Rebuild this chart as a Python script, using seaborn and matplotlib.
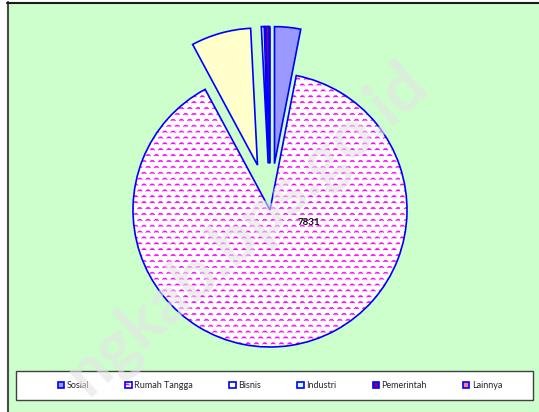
import warnings
import matplotlib
matplotlib.use("Agg")
import matplotlib.pyplot as plt
import matplotlib.hatch as mhatch
import matplotlib.colors as mcolors
from matplotlib.path import Path
from matplotlib.patches import Rectangle
from matplotlib.lines import Line2D
import seaborn as sns

warnings.filterwarnings("ignore")

categories = ["Sosial", "Rumah Tangga", "Bisnis", "Industri", "Pemerintah", "Lainnya"]
values = [270, 7831, 620, 30, 40, 0]
colors = ["#9999FF", "#FFFFFF", "#FFFFCC", "#CCFFFF", "#800080", "#FF8080"]
explode = [0.34, 0, 0.34, 0.34, 0.34, 0.34]
watermark = "ngkab.bps.go.id"


# excel-like "wave" fill, registered as hatch char '~'
class WaveHatch(mhatch.HatchPatternBase):
    def __init__(self, hatch, density):
        self.rows = 17 if "~" in hatch else 0
        self.bumps = 12
        self.num_vertices = self.rows * self.bumps * 4

    def set_vertices_and_codes(self, vertices, codes):
        w = 1.0 / self.bumps
        k = 0
        for r in range(self.rows):
            y0 = (r + 0.5) / self.rows
            shift = 0.5 * w * (r % 2)
            for b in range(self.bumps):
                x0 = b * w + shift
                vertices[k:k + 4] = [(x0, y0), (x0 + 0.15 * w, y0 + 0.013),
                                     (x0 + 0.4 * w, y0 + 0.013), (x0 + 0.55 * w, y0)]
                codes[k:k + 4] = [Path.MOVETO, Path.LINETO, Path.LINETO, Path.LINETO]
                k += 4


mhatch._hatch_types.append(WaveHatch)

sns.set_theme(style="white")
plt.rcParams["font.family"] = ["Lato", "DejaVu Sans"]
plt.rcParams["hatch.linewidth"] = 0.5

W, H = 539, 412
fig = plt.figure(figsize=(W / 100, H / 100), dpi=100)
fig.patch.set_facecolor("white")
fig.add_artist(Rectangle((8 / W, 0), 1, 1 - 3 / H, transform=fig.transFigure,
                         facecolor="#CCFFCC", edgecolor="none", zorder=-2))
fig.add_artist(Line2D([7.5 / W] * 2, [0, 1 - 2 / H], color="#4a4a4a", lw=1.5, zorder=-1))
fig.add_artist(Line2D([7 / W, 1], [1 - 2.5 / H] * 2, color="#1a1a1a", lw=1.5, zorder=-1))

R = 137
L = 1.45
side = 2 * L * R
cx, cy = 270, H - 210
ax = fig.add_axes([(cx - side / 2) / W, (cy - side / 2) / H, side / W, side / H])
ax.patch.set_alpha(0)

wedges, _ = ax.pie(values, explode=explode, colors=colors, startangle=90,
                   counterclock=False,
                   wedgeprops=dict(edgecolor="#0000FF", linewidth=1.2))
ax.set_xlim(-L, L)
ax.set_ylim(-L, L)
ax.set_aspect("equal")
ax.axis("off")

rt = wedges[categories.index("Rumah Tangga")]
rt.set_hatch("~")
rt._hatch_color = mcolors.to_rgba("#FF00FF")

ax.text(0.28, -0.09, f"{values[1]}", ha="center", va="center",
        fontsize=7, fontweight="bold", color="#111111")

# legend box
fig.add_artist(Rectangle((16 / W, (H - 400) / H), (533 - 16) / W, 29 / H,
                         transform=fig.transFigure, facecolor="white",
                         edgecolor="#404040", lw=1, zorder=3))
fig.legend(wedges, categories, loc="center",
           bbox_to_anchor=(280 / W, (H - 385.5) / H), ncol=6, frameon=False,
           fontsize=6.5, handlelength=0.7, handleheight=0.7, handletextpad=0.3,
           columnspacing=4.0)

fig.text(88 / W, 15 / H, watermark, rotation=42, rotation_mode="anchor",
         ha="left", va="baseline", fontsize=48, fontweight="bold",
         color="#e4e4e4", alpha=0.6, zorder=10)

fig.savefig("out.png", dpi=100)
